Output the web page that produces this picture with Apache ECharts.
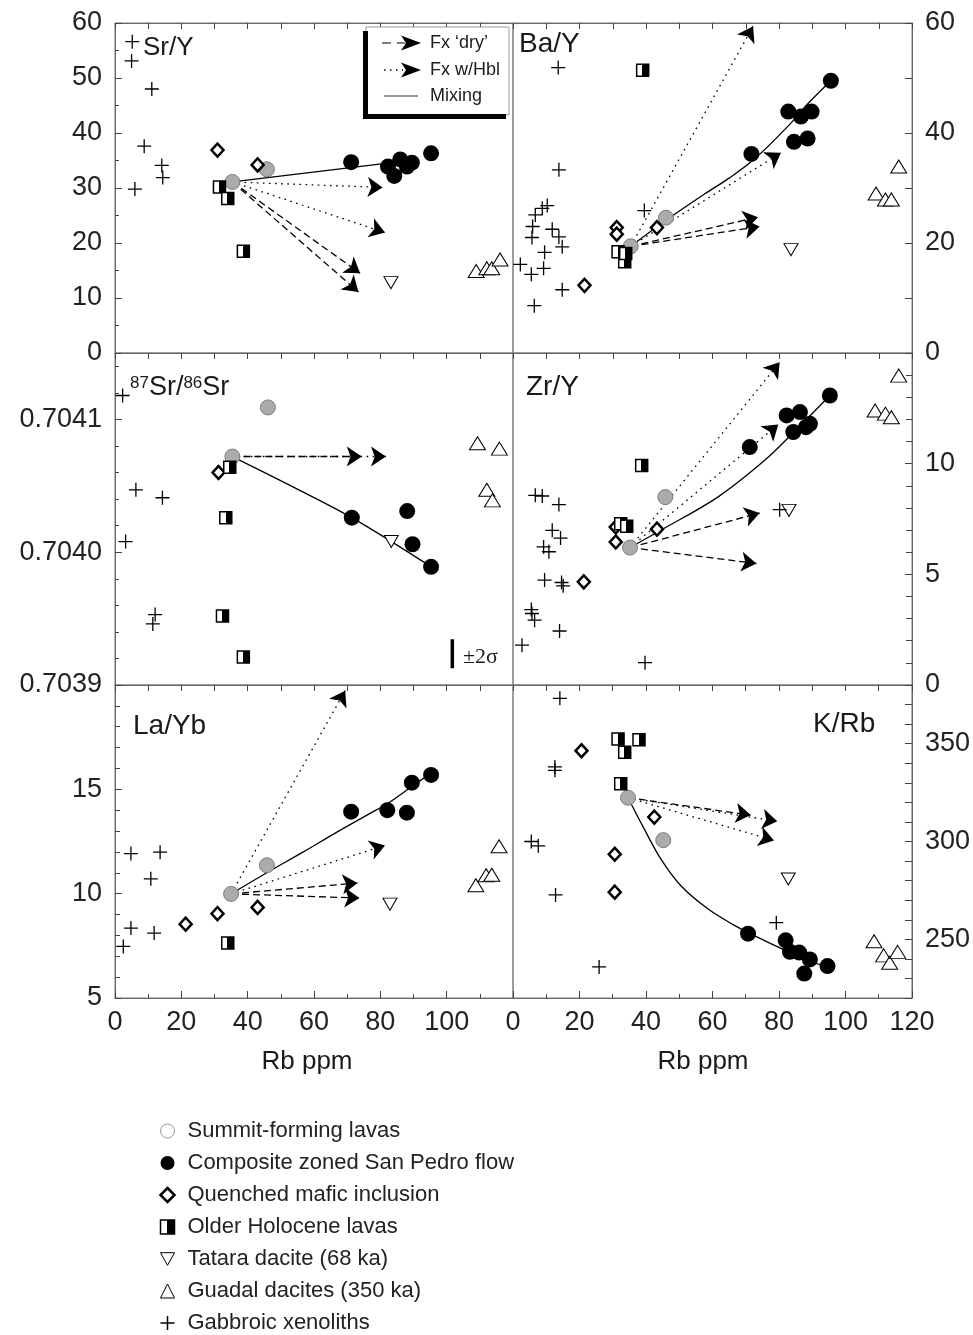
<!DOCTYPE html>
<html><head><meta charset="utf-8">
<script src="https://cdn.jsdelivr.net/npm/echarts@6/dist/echarts.min.js"></script>
<style>html,body{margin:0;padding:0;background:#fff}#c{width:973px;height:1335px}</style>
</head><body><div id="c"></div>
<script>
// ---------------- DATA ----------------
const rbTicks = [0, 20, 40, 60, 80, 100, 120];
const groupNames = ['Summit-forming lavas','Composite zoned San Pedro flow','Quenched mafic inclusion','Older Holocene lavas','Tatara dacite (68 ka)','Guadal dacites (350 ka)','Gabbroic xenoliths'];
const panelTitles = ['Sr/Y','Ba/Y','87Sr/86Sr','Zr/Y','La/Yb','K/Rb'];
const lineLegend = ['Fx ‘dry’','Fx w/Hbl','Mixing'];

// Sr/Y
const srY_xeno = [[5.2,56.6],[5.0,53.1],[11.1,48.0],[8.8,37.6],[14.1,34.1],[14.4,31.9],[6.0,29.8]];
const srY_mafic = [[30.9,36.9],[43.0,34.2]];
const srY_summit = [[45.8,33.4],[35.4,31.1]];
const srY_older = [[31.5,30.2],[34.0,28.1],[38.7,18.5]];
const srY_sanPedro = [[71.2,34.7],[82.3,33.9],[84.2,32.2],[86.0,35.2],[88.0,33.9],[89.5,34.6],[95.3,36.3]];
const srY_tatara = [[83.2,12.8]];
const srY_guadal = [[108.9,14.9],[112.1,15.4],[113.6,15.4],[116.1,17.0]];
const srY_mix = [[35.4,31.1],[86.0,34.8]];
const srY_dry = [[73.9,14.5],[73.4,11.1]];
const srY_hbl = [[80.7,30.1],[81.4,21.9]];

// Ba/Y
const baY_xeno = [[13.6,51.9],[13.8,33.3],[39.5,25.9],[10.3,26.8],[8.8,26.3],[6.7,25.1],[5.9,23.0],[5.7,21.0],[11.8,22.5],[13.8,21.1],[14.8,19.3],[9.5,18.3],[2.2,16.1],[5.5,14.3],[9.2,15.4],[14.8,11.5],[6.4,8.6]];
const baY_mafic = [[31.2,22.8],[31.2,21.6],[21.5,12.3],[43.3,22.8]];
const baY_summit = [[46.0,24.6],[35.4,19.4]];
const baY_older = [[39.0,51.4],[31.6,18.4],[33.6,16.6],[33.9,18.1]];
const baY_sanPedro = [[71.7,36.2],[82.8,43.9],[86.6,43.0],[89.8,43.9],[84.5,38.4],[88.6,39.0],[95.6,49.5]];
const baY_tatara = [[83.6,18.8]];
const baY_guadal = [[116.0,33.9],[109.2,29.0],[112.0,27.9],[113.8,27.9]];
const baY_mix = [[35.4,19.4],[45.5,23.9],[57.6,28.9],[65,31.8],[72.7,35.3],[82.8,41.3],[88.8,45.4],[95.6,49.5]];
const baY_dry = [[73.7,24.7],[74.2,23.0]];
const baY_hbl = [[72.2,59.4],[80.6,36.4]];

// 87Sr/86Sr
const sr_xeno = [[2.3,0.704118],[6.3,0.704047],[14.3,0.704041],[3.2,0.704008],[12.1,0.703953],[11.4,0.703946]];
const sr_mafic = [[31.2,0.704060]];
const sr_summit = [[46.1,0.704109],[35.4,0.704072]];
const sr_older = [[34.6,0.704064],[33.4,0.704026],[32.4,0.703952],[38.7,0.703921]];
const sr_sanPedro = [[71.4,0.704026],[88.1,0.704031],[89.7,0.704006],[95.3,0.703989]];
const sr_tatara = [[83.3,0.704008]];
const sr_guadal = [[109.3,0.704082],[115.9,0.704078],[112.1,0.704047],[113.8,0.704039]];
const sr_mix = [[35.4,0.704072],[53.8,0.704049],[71.4,0.704026],[95.3,0.703989]];
const sr_dry = [[74.4,0.704072]];
const sr_hbl = [[81.7,0.704072]];
const sr_err = [[101.7,0.7039345],[101.7,0.7039126]];

// Zr/Y
const zrY_xeno = [[6.7,8.57],[8.8,8.54],[13.8,8.15],[11.8,6.99],[14.3,6.64],[9.2,6.24],[10.8,6.02],[9.5,4.74],[14.6,4.63],[15.1,4.48],[5.5,3.41],[5.7,3.23],[6.5,2.93],[14.0,2.44],[2.7,1.80],[39.7,1.01],[80.2,7.92]];
const zrY_mafic = [[30.9,7.14],[30.9,6.46],[21.3,4.66],[43.3,7.04]];
const zrY_summit = [[45.8,8.49],[35.2,6.21]];
const zrY_older = [[32.4,7.29],[34.2,7.17],[38.7,9.92]];
const zrY_sanPedro = [[71.2,10.75],[82.3,12.18],[86.3,12.33],[84.3,11.43],[89.3,11.80],[88.1,11.65],[95.3,13.08]];
const zrY_tatara = [[83.0,7.89]];
const zrY_guadal = [[116.0,13.98],[108.9,12.40],[112.0,12.26],[113.8,12.10]];
const zrY_mix = [[35.2,6.21],[44.5,7.0],[61.6,8.49],[75.7,10.15],[84.3,11.4],[95.3,13.08]];
const zrY_dry = [[74.2,7.77],[73.2,5.49]];
const zrY_hbl = [[80.2,14.58],[79.8,11.77]];

// La/Yb
const laYb_xeno = [[4.8,11.92],[13.6,11.99],[10.8,10.71],[4.8,8.35],[11.8,8.11],[2.5,7.47]];
const laYb_mafic = [[21.3,8.54],[30.9,9.04],[43.0,9.34]];
const laYb_summit = [[45.8,11.36],[35.0,9.99]];
const laYb_older = [[34.0,7.63]];
const laYb_sanPedro = [[71.2,13.93],[82.1,14.0],[88.0,13.88],[89.5,15.32],[95.3,15.69]];
const laYb_tatara = [[82.9,9.50]];
const laYb_guadal = [[108.8,10.40],[111.9,10.88],[113.6,10.91],[115.8,12.27]];
const laYb_mix = [[35.0,9.99],[46.8,11.1],[56.8,12.0],[66.9,12.95],[76.9,13.85],[82.0,14.3],[89.0,15.08],[94.0,15.64]];
const laYb_dry = [[73.1,10.51],[73.7,9.79]];
const laYb_hbl = [[69.4,19.73],[81.4,12.31]];

// K/Rb
const kRb_xeno = [[14.1,373.2],[12.6,338.1],[12.6,336.4],[5.5,300.0],[7.6,297.8],[12.8,272.7],[25.9,235.9],[79.2,258.5]];
const kRb_mafic = [[20.6,346.4],[42.5,312.5],[30.6,293.5],[30.6,274.1]];
const kRb_summit = [[45.2,300.7],[34.6,322.4]];
const kRb_older = [[31.6,352.4],[33.6,345.6],[37.9,352.0],[32.4,329.5]];
const kRb_sanPedro = [[70.7,252.9],[82.0,249.5],[83.3,243.6],[86.1,243.2],[89.3,239.7],[87.6,232.5],[94.6,236.3]];
const kRb_tatara = [[82.8,280.8]];
const kRb_guadal = [[108.6,249.0],[111.5,241.8],[113.3,238.0],[115.7,243.6]];
const kRb_mix = [[34.6,322.4],[39.5,306.3],[44.5,291.0],[50.5,277.4],[58.6,265.6],[66.6,257.1],[70.7,253.4],[80.8,245.2],[86.8,240.2],[92.9,236.8]];
const kRb_dry = [[71.5,313.5]];
const kRb_hbl = [[79.5,310.3],[78.5,300.5]];

// ---------------- CHART ----------------
const FONT = '"Liberation Sans", Arial, Helvetica, sans-serif';
const INK = '#000';
const HALF = {type:'linear',x:0,y:0,x2:1,y2:0,colorStops:[
  {offset:0,color:'#fff'},{offset:0.48,color:'#fff'},{offset:0.48,color:'#000'},{offset:1,color:'#000'}]};
const CROSS = 'path://M5,0L5,10M0,5L10,5';
const INVTRI = 'path://M0,0L10,0L5,9Z';

const STY = {
  summit:{symbol:'circle',symbolSize:15,itemStyle:{color:'#ababab',borderColor:'#7d7d7d',borderWidth:1,opacity:1}},
  sanPedro:{symbol:'circle',symbolSize:16,itemStyle:{color:INK,borderColor:INK,borderWidth:0,opacity:1}},
  mafic:{symbol:'diamond',symbolSize:[12,13],itemStyle:{color:'#fff',borderColor:INK,borderWidth:2.5,opacity:1}},
  older:{symbol:'rect',symbolSize:12,itemStyle:{color:HALF,borderColor:INK,borderWidth:1.5,opacity:1}},
  tatara:{symbol:INVTRI,symbolSize:[14,12],itemStyle:{color:'#fff',borderColor:INK,borderWidth:1,opacity:1}},
  guadal:{symbol:'triangle',symbolSize:[16,13],itemStyle:{color:'#fff',borderColor:INK,borderWidth:1,opacity:1}},
  xeno:{symbol:CROSS,symbolSize:14,itemStyle:{color:'none',borderColor:INK,borderWidth:1.3,opacity:1}}
};
const KEYS = ['summit','sanPedro','mafic','older','tatara','guadal','xeno'];

const panels = [
  {summit:srY_summit,sanPedro:srY_sanPedro,mafic:srY_mafic,older:srY_older,tatara:srY_tatara,guadal:srY_guadal,xeno:srY_xeno,mix:srY_mix,dry:srY_dry,hbl:srY_hbl},
  {summit:baY_summit,sanPedro:baY_sanPedro,mafic:baY_mafic,older:baY_older,tatara:baY_tatara,guadal:baY_guadal,xeno:baY_xeno,mix:baY_mix,dry:baY_dry,hbl:baY_hbl},
  {summit:sr_summit,sanPedro:sr_sanPedro,mafic:sr_mafic,older:sr_older,tatara:sr_tatara,guadal:sr_guadal,xeno:sr_xeno,mix:sr_mix,dry:sr_dry,hbl:sr_hbl},
  {summit:zrY_summit,sanPedro:zrY_sanPedro,mafic:zrY_mafic,older:zrY_older,tatara:zrY_tatara,guadal:zrY_guadal,xeno:zrY_xeno,mix:zrY_mix,dry:zrY_dry,hbl:zrY_hbl},
  {summit:laYb_summit,sanPedro:laYb_sanPedro,mafic:laYb_mafic,older:laYb_older,tatara:laYb_tatara,guadal:laYb_guadal,xeno:laYb_xeno,mix:laYb_mix,dry:laYb_dry,hbl:laYb_hbl},
  {summit:kRb_summit,sanPedro:kRb_sanPedro,mafic:kRb_mafic,older:kRb_older,tatara:kRb_tatara,guadal:kRb_guadal,xeno:kRb_xeno,mix:kRb_mix,dry:kRb_dry,hbl:kRb_hbl}
];

const grids = [
  {left:115,top:23,width:398,height:330},
  {left:513,top:23,width:399,height:330},
  {left:115,top:353,width:398,height:332},
  {left:513,top:353,width:399,height:332},
  {left:115,top:685,width:398,height:313},
  {left:513,top:685,width:399,height:313}
].map(g => Object.assign({show:true,borderColor:'#7a7a7a',borderWidth:1,backgroundColor:'transparent'}, g));

const AXC = '#6a6a6a';
const xAxes = [];
for (let i = 0; i < 6; i++) {
  xAxes.push({gridIndex:i,type:'value',min:0,max:120,interval:10,position:'top',
    axisLine:{show:true,onZero:false,lineStyle:{color:AXC}},
    axisTick:{show:true,inside:true,length:6,lineStyle:{color:'#444'}},
    axisLabel:{show:false},splitLine:{show:false}});
}
[4,5].forEach(i => {
  xAxes.push({gridIndex:i,type:'value',min:0,max:120,interval:20,position:'bottom',
    axisLine:{show:true,onZero:false,lineStyle:{color:AXC}},
    axisTick:{show:true,inside:true,length:7,lineStyle:{color:'#444'}},
    minorTick:{show:true,splitNumber:2,length:4,lineStyle:{color:'#444'}},
    axisLabel:{show:true,fontSize:27,fontFamily:FONT,color:'#222',margin:11,
      formatter:v => (i === 4 && v === 120) ? '' : (rbTicks.indexOf(v) >= 0 ? String(v) : '')},
    splitLine:{show:false}});
});

function yAx(gi, o, fmt) {
  return Object.assign({gridIndex:gi,type:'value',
    axisLine:{show:true,onZero:false,lineStyle:{color:AXC}},
    axisTick:{show:true,inside:true,length:7,lineStyle:{color:'#444'}},
    axisLabel:{show:true,fontSize:27,fontFamily:FONT,color:'#222',margin:13,formatter:fmt},
    splitLine:{show:false}}, o);
}
const yAxes = [
  yAx(0,{min:0,max:60,interval:10,position:'left',minorTick:{show:true,splitNumber:2,length:4,lineStyle:{color:'#444'}}}, v=>String(v)),
  yAx(1,{min:0,max:60,interval:20,position:'right',minorTick:{show:true,splitNumber:2,length:7,lineStyle:{color:'#444'}}}, v=>String(v)),
  yAx(2,{min:0.7039,max:0.70415,interval:0.0001,position:'left',minorTick:{show:true,splitNumber:5,length:4,lineStyle:{color:'#444'}}}, v=> v>0.704105 ? '' : v.toFixed(4)),
  yAx(3,{min:0,max:15,interval:5,position:'right',minorTick:{show:true,splitNumber:5,length:6,lineStyle:{color:'#444'}}}, v=> v>=15 ? '' : String(v)),
  yAx(4,{min:5,max:20,interval:5,position:'left',minorTick:{show:true,splitNumber:5,length:5,lineStyle:{color:'#444'}}}, v=> v>=20 ? '' : String(v)),
  yAx(5,{min:220,max:380,interval:10,position:'right'}, v=> (v%50===0) ? String(v) : '')
];

const series = [];
function arrows(origin, ends, gi, dash) {
  return {type:'lines',coordinateSystem:'cartesian2d',xAxisIndex:gi,yAxisIndex:gi,z:3,silent:true,
    symbol:['none','arrow'],symbolSize:[1,15],
    lineStyle:{color:INK,width:1.3,type:dash,opacity:1},
    data:ends.map(e => ({coords:[origin,e]}))};
}
panels.forEach((p, gi) => {
  const origin = p.summit[p.summit.length - 1];
  series.push({type:'line',name:'Mixing',xAxisIndex:gi,yAxisIndex:gi,data:p.mix,smooth:0.35,showSymbol:false,
    silent:true,z:3,lineStyle:{color:INK,width:1.3}});
  series.push(arrows(origin, p.dry, gi, [7,4]));
  series.push(arrows(origin, p.hbl, gi, [1.6,4.5]));
  KEYS.forEach((k, ki) => {
    const s = STY[k];
    series.push({type:'scatter',name:groupNames[ki],xAxisIndex:gi,yAxisIndex:gi,data:p[k],
      symbol:s.symbol,symbolSize:s.symbolSize,itemStyle:s.itemStyle,z:5,silent:true});
  });
});
series.push({type:'line',name:'±2σ',xAxisIndex:2,yAxisIndex:2,data:sr_err,showSymbol:false,silent:true,
  lineStyle:{color:INK,width:3.5}});

const legendData = [
  {name:groupNames[0],icon:'circle',itemStyle:{color:'#fff',borderColor:'#9a9a9a',borderWidth:1,opacity:1}},
  {name:groupNames[1],icon:'circle',itemStyle:{color:INK,borderWidth:0,opacity:1}},
  {name:groupNames[2],icon:'diamond',itemStyle:{color:'#fff',borderColor:INK,borderWidth:2.5,opacity:1}},
  {name:groupNames[3],icon:'rect',itemStyle:{color:HALF,borderColor:INK,borderWidth:1.5,opacity:1}},
  {name:groupNames[4],icon:INVTRI,itemStyle:{color:'#fff',borderColor:INK,borderWidth:1,opacity:1}},
  {name:groupNames[5],icon:'triangle',itemStyle:{color:'#fff',borderColor:INK,borderWidth:1,opacity:1}},
  {name:groupNames[6],icon:CROSS,itemStyle:{color:'none',borderColor:INK,borderWidth:1.5,opacity:1}}
];

function txt(x, y, text, size, extra) {
  return {type:'text',x:x,y:y,silent:true,z:20,style:Object.assign({text:text,fontSize:size,fontFamily:FONT,fill:'#1a1a1a',
    align:'left',verticalAlign:'middle'}, extra || {})};
}
const graphic = [
  txt(143,48,panelTitles[0],26),
  txt(519,44,panelTitles[1],28),
  {type:'text',x:130,y:388,silent:true,z:20,style:{text:'{s|87}Sr/{s|86}Sr',fontSize:27,fontFamily:FONT,fill:'#1a1a1a',
    align:'left',verticalAlign:'middle',rich:{s:{fontSize:17,fontFamily:FONT,verticalAlign:'top',lineHeight:17,fill:'#1a1a1a'}}}},
  txt(526,387,panelTitles[3],28),
  txt(133,726,panelTitles[4],28),
  txt(813,724,panelTitles[5],28),
  txt(307,1062,'Rb ppm',26,{align:'center'}),
  txt(703,1062,'Rb ppm',26,{align:'center'}),
  txt(463,657,'±2σ',22,{fontFamily:'"Liberation Serif", "DejaVu Serif", serif'}),
  {type:'rect',z:15,silent:true,shape:{x:366,y:27,width:143,height:88},style:{fill:'#fff',stroke:'#9a9a9a',lineWidth:1}},
  {type:'rect',z:16,silent:true,shape:{x:363,y:31,width:5,height:88},style:{fill:'#000'}},
  {type:'rect',z:16,silent:true,shape:{x:363,y:114,width:143,height:5},style:{fill:'#000'}},
  {type:'line',z:16,silent:true,shape:{x1:382,y1:43,x2:405,y2:43},style:{stroke:'#000',lineWidth:1.2,lineDash:[9,6]}},
  {type:'polygon',z:16,silent:true,shape:{points:[[421,43],[401,35.5],[406,43],[401,50.5]]},style:{fill:'#000'}},
  {type:'line',z:16,silent:true,shape:{x1:384,y1:70,x2:403,y2:70},style:{stroke:'#000',lineWidth:1.4,lineDash:[1.5,4.5]}},
  {type:'polygon',z:16,silent:true,shape:{points:[[421,70],[401,62.5],[406,70],[401,77.5]]},style:{fill:'#000'}},
  {type:'line',z:16,silent:true,shape:{x1:384,y1:96,x2:418,y2:96},style:{stroke:'#333',lineWidth:1}},
  txt(430,43,lineLegend[0],18),
  txt(430,70,lineLegend[1],18),
  txt(430,96,lineLegend[2],18)
];

const chart = echarts.init(document.getElementById('c'), null, {renderer:'canvas'});
chart.setOption({
  backgroundColor:'#fff',
  animation:false,
  grid:grids,
  xAxis:xAxes,
  yAxis:yAxes,
  legend:{show:true,orient:'vertical',left:153,top:1115,height:260,itemWidth:14,itemHeight:14,itemGap:10,selectedMode:false,
    textStyle:{fontSize:22,fontFamily:FONT,color:'#222',lineHeight:21.8,padding:[0,0,0,8]},data:legendData},
  graphic:graphic,
  series:series
});
</script></body></html>
